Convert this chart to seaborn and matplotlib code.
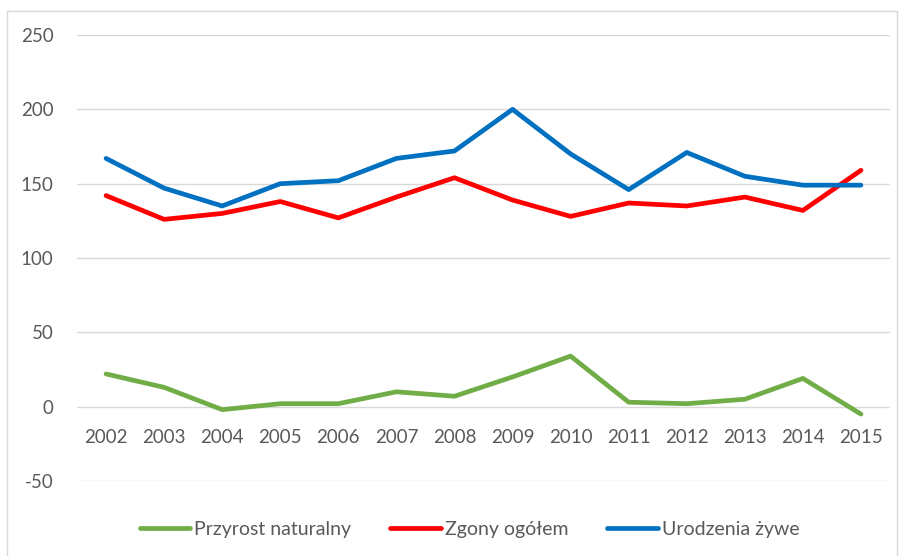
import pandas as pd
import seaborn as sns
import matplotlib.pyplot as plt
from matplotlib.patches import Rectangle

# Values
years = [2002, 2003, 2004, 2005, 2006, 2007, 2008, 2009, 2010, 2011, 2012, 2013, 2014, 2015]
przyrost = [22, 13, -2, 2, 2, 10, 7, 20, 34, 3, 2, 5, 19, -5]
zgony = [142, 126, 130, 138, 127, 141, 154, 139, 128, 137, 135, 141, 132, 159]
urodzenia = [167, 147, 135, 150, 152, 167, 172, 200, 170, 146, 171, 155, 149, 149]

series = ['Przyrost naturalny', 'Zgony ogółem', 'Urodzenia żywe']
colors = ['#70AD47', '#FF0000', '#0070C0']

df = pd.DataFrame({'Rok': [str(y) for y in years],
                   'Przyrost naturalny': przyrost,
                   'Zgony ogółem': zgony,
                   'Urodzenia żywe': urodzenia})
long_df = df.melt(id_vars='Rok', var_name='Seria', value_name='Wartość')

sns.set_theme(style='white')
plt.rcParams['font.family'] = ['Lato', 'DejaVu Sans']
plt.rcParams['axes.unicode_minus'] = False

fig = plt.figure(figsize=(9.03, 5.56), dpi=100)
ax = fig.add_axes([0.0853, 0.1349, 0.9003, 0.8021])

sns.lineplot(data=long_df, x='Rok', y='Wartość', hue='Seria', hue_order=series,
             palette=colors, linewidth=3.4, ax=ax, sort=False)
for line in ax.get_lines():
    line.set_solid_capstyle('round')
    line.set_solid_joinstyle('round')

ax.set_xlim(-0.5, len(years) - 0.5)
ax.set_ylim(-50, 250)
ax.set_yticks(range(-50, 251, 50))
ax.yaxis.grid(True, color='#D9D9D9', linewidth=1)
ax.set_axisbelow(True)
for s in ax.spines.values():
    s.set_visible(False)
ax.spines['bottom'].set_position(('data', 0))
ax.tick_params(axis='both', length=0, labelsize=13.5, colors='#595959')
ax.tick_params(axis='x', pad=16)
ax.tick_params(axis='y', pad=17)
ax.set_xlabel('')
ax.set_ylabel('')

ax.legend(loc='center', bbox_to_anchor=(0.52, 0.048), bbox_transform=fig.transFigure,
          ncol=3, frameon=False, fontsize=14, handlelength=2.6, handletextpad=0.2,
          columnspacing=2.0, labelcolor='#595959')

fig.patches.append(Rectangle((7 / 903, -0.01), 890 / 903, (556 - 11) / 556 + 0.01,
                             transform=fig.transFigure, fill=False,
                             edgecolor='#D9D9D9', linewidth=1))

plt.savefig('out.png', dpi=100)
